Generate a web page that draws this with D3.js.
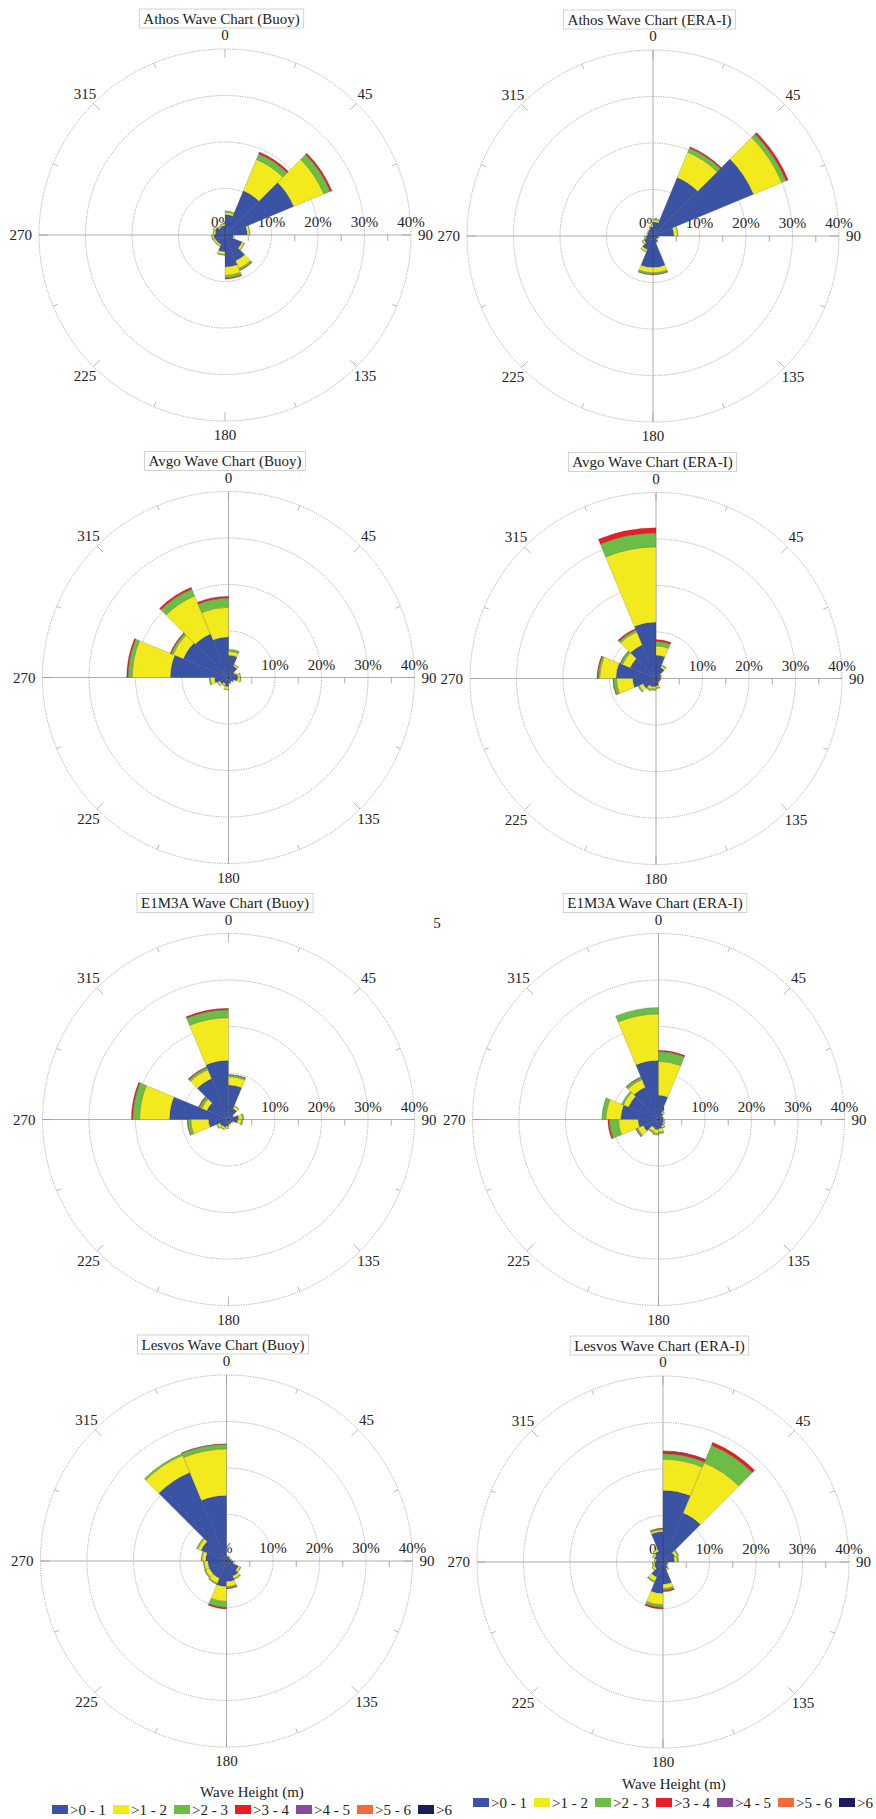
<!DOCTYPE html>
<html>
<head>
<meta charset="utf-8">
<script src="https://cdn.jsdelivr.net/npm/d3@7/dist/d3.min.js"></script>
<style>
  body { margin: 0; background: #fff; }
  svg { display: block; }
  svg text { font-family: 'Liberation Serif', 'DejaVu Serif', 'Times New Roman', serif; }
</style>
</head>
<body>
<svg id="chart" width="876" height="1819"></svg>
<script>
// direction sectors (start angle, degrees) and wave height classes
var directions = d3.range(0, 360, 22.5);
var bins = ['>0 - 1', '>1 - 2', '>2 - 3', '>3 - 4', '>4 - 5', '>5 - 6', '>6'];
var binColors = ['#3a53a4', '#f2ea1c', '#6cbd45', '#ea1d25', '#8a4a9c', '#f26b3a', '#1e1b5a'];
var angleLabels = [0, 45, 90, 135, 180, 225, 270, 315];
var radialTicks = [0, 10, 20, 30, 40];

// frequency (%) per sector, columns = >0-1, >1-2, >2-3, >3-4, >4-5
var athosBuoy = [
  [4.4, 0.5, 0.3, 0], [10.3, 7.3, 1.3, 0.4], [16.0, 7.0, 1.5, 0.4], [4.8, 0.5, 0.1, 0],
  [1.8, 0.3, 0, 0], [4.0, 0.5, 0.1, 0], [6.0, 1.8, 0.4, 0.1], [6.9, 1.8, 0.6, 0.2],
  [3.6, 0.6, 0.2, 0], [2.2, 0.4, 0.1, 0], [2.2, 0.4, 0.1, 0], [2.4, 0.4, 0.1, 0],
  [2.1, 0.4, 0.1, 0], [2.3, 0.4, 0.1, 0], [1.8, 0.3, 0.1, 0], [2.0, 0.4, 0.1, 0]
];
var athosEra = [
  [3.0, 0.5, 0.2, 0], [13.6, 5.9, 1.0, 0.3], [23.4, 6.6, 1.0, 0.5], [4.5, 0.8, 0.1, 0],
  [1.2, 0.2, 0, 0], [1.0, 0.2, 0, 0], [1.5, 0.2, 0, 0], [6.8, 1.1, 0.4, 0.1],
  [6.8, 1.1, 0.4, 0.1], [3.2, 0.5, 0.1, 0], [2.1, 0.4, 0.1, 0], [1.5, 0.3, 0.1, 0],
  [1.2, 0.2, 0, 0], [1.3, 0.2, 0, 0], [1.5, 0.2, 0, 0], [2.0, 0.3, 0, 0]
];
var avgoBuoy = [
  [4.8, 0.8, 0.5, 0], [2.6, 0.4, 0.1, 0], [1.5, 0.3, 0, 0], [2.0, 0.5, 0.1, 0],
  [2.0, 0.6, 0.1, 0], [1.2, 0.3, 0, 0], [1.0, 0.2, 0, 0], [1.2, 0.3, 0, 0],
  [2.0, 0.6, 0.1, 0], [1.5, 0.4, 0.1, 0], [2.0, 0.5, 0.1, 0], [3.0, 0.9, 0.3, 0],
  [12.5, 8.2, 0.9, 0.3], [10.5, 2.4, 0.5, 0.2], [10.1, 8.9, 1.6, 0.4], [8.7, 6.4, 2.0, 0.4]
];
var avgoEra = [
  [5.0, 2.0, 1.0, 0.4], [2.5, 0.5, 0.2, 0], [1.2, 0.2, 0, 0], [1.0, 0.2, 0, 0],
  [1.0, 0.1, 0, 0], [0.8, 0.1, 0, 0], [1.0, 0.2, 0, 0], [1.6, 0.4, 0.2, 0],
  [1.8, 0.5, 0.3, 0], [2.0, 0.6, 0.3, 0], [3.0, 0.9, 0.3, 0], [5.0, 3.5, 0.7, 0.1],
  [8.6, 3.5, 0.4, 0.2], [6.0, 1.8, 0.5, 0.1], [7.8, 3.0, 0.5, 0.3], [12.1, 16.2, 3.0, 1.1]
];
var e1m3aBuoy = [
  [7.4, 1.8, 0.4, 0.1], [2.5, 0.6, 0.1, 0], [1.2, 0.3, 0, 0], [2.2, 0.8, 0.3, 0],
  [2.0, 0.8, 0.3, 0], [1.0, 0.2, 0, 0], [0.8, 0.2, 0, 0], [1.0, 0.3, 0, 0],
  [1.5, 0.4, 0.1, 0], [1.8, 0.5, 0.1, 0], [2.0, 0.6, 0.2, 0], [4.3, 3.8, 0.7, 0.1],
  [12.7, 6.4, 1.5, 0.3], [5.0, 1.2, 0.6, 0.2], [9.5, 2.1, 0.5, 0.2], [12.7, 9.2, 1.7, 0.3]
];
var e1m3aEra = [
  [5.2, 7.3, 2.1, 0.3], [1.5, 0.3, 0.1, 0], [1.0, 0.2, 0, 0], [1.0, 0.2, 0, 0],
  [1.0, 0.2, 0.1, 0], [1.2, 0.3, 0.1, 0], [1.5, 0.4, 0.2, 0], [2.0, 0.7, 0.4, 0],
  [2.2, 0.8, 0.4, 0], [2.0, 0.8, 0.3, 0], [3.5, 1.3, 0.4, 0.1], [4.4, 4.2, 2.0, 0.3],
  [8.1, 3.2, 0.9, 0], [7.0, 1.2, 0.4, 0], [7.5, 1.8, 0.5, 0.1], [12.7, 10.0, 1.4, 0]
];
var lesvosBuoy = [
  [1.0, 0.2, 0, 0], [1.0, 0.2, 0, 0], [0.8, 0.1, 0, 0], [1.0, 0.2, 0, 0],
  [1.5, 0.3, 0, 0], [2.8, 0.5, 0.1, 0], [3.5, 0.6, 0.2, 0], [4.4, 1.1, 0.3, 0.2],
  [5.5, 3.2, 1.3, 0.3], [4.0, 1.2, 0.3, 0], [4.0, 0.9, 0.3, 0], [4.0, 0.8, 0.2, 0],
  [4.5, 0.8, 0.2, 0], [5.9, 0.8, 0.3, 0], [20.6, 4.0, 0.4, 0], [14.1, 10.0, 1.0, 0.1]
];
var lesvosEra = [
  [15.4, 6.7, 1.2, 0.5, 0.1], [11.4, 11.7, 4.1, 0.7], [2.8, 0.6, 0.3, 0], [2.5, 0.6, 0.3, 0],
  [1.0, 0.2, 0, 0], [1.0, 0.2, 0, 0], [1.5, 0.3, 0.1, 0], [4.8, 0.9, 0.4, 0.3],
  [6.8, 2.4, 0.6, 0.3], [3.5, 1.0, 0.3, 0], [2.0, 0.5, 0.1, 0], [1.8, 0.4, 0.1, 0],
  [1.5, 0.3, 0.1, 0], [2.0, 0.4, 0.1, 0], [2.5, 0.5, 0.1, 0], [6.5, 0.4, 0.3, 0.1]
];

var panels = [
  { title: 'Athos Wave Chart (Buoy)', data: athosBuoy, cx: 225, cy: 235, vAxis: false },
  { title: 'Athos Wave Chart (ERA-I)', data: athosEra, cx: 653, cy: 236, vAxis: true },
  { title: 'Avgo Wave Chart (Buoy)', data: avgoBuoy, cx: 228.5, cy: 677.5, vAxis: true },
  { title: 'Avgo Wave Chart (ERA-I)', data: avgoEra, cx: 656, cy: 678.5, vAxis: true },
  { title: 'E1M3A Wave Chart (Buoy)', data: e1m3aBuoy, cx: 228.5, cy: 1119.5, vAxis: false },
  { title: 'E1M3A Wave Chart (ERA-I)', data: e1m3aEra, cx: 658.5, cy: 1119.5, vAxis: true },
  { title: 'Lesvos Wave Chart (Buoy)', data: lesvosBuoy, cx: 226.5, cy: 1561, vAxis: true },
  { title: 'Lesvos Wave Chart (ERA-I)', data: lesvosEra, cx: 663, cy: 1562, vAxis: true }
];

var svg = d3.select('#chart');
var R = 186;
var rScale = d3.scaleLinear().domain([0, 40]).range([0, R]);
var toRad = Math.PI / 180;
var step = 22.5;

var arc = d3.arc()
  .innerRadius(function (d) { return rScale(d[0]); })
  .outerRadius(function (d) { return rScale(d[1]); })
  .startAngle(function (d) { return d.data.dir * toRad; })
  .endAngle(function (d) { return (d.data.dir + step) * toRad; });

function drawPanel(p) {
  var g = svg.append('g')
    .attr('transform', 'translate(' + p.cx + ',' + p.cy + ')');

  // 网格圆
  g.selectAll('circle.grid')
    .data(radialTicks.slice(1))
    .enter().append('circle')
    .attr('class', 'grid')
    .attr('r', function (d) { return rScale(d); })
    .attr('fill', 'none')
    .attr('stroke', '#8a8a8a')
    .attr('stroke-width', 0.7)
    .attr('stroke-dasharray', '1.2,1.2');

  // 轴线
  g.append('line')
    .attr('x1', -R).attr('x2', R).attr('y1', 0).attr('y2', 0)
    .attr('stroke', '#9a9a9a').attr('stroke-width', 0.8);
  if (p.vAxis) {
    g.append('line')
      .attr('x1', 0).attr('x2', 0).attr('y1', -R).attr('y2', R)
      .attr('stroke', '#9a9a9a').attr('stroke-width', 0.8);
  }

  // 外圈刻度
  g.selectAll('line.atick')
    .data(directions)
    .enter().append('line')
    .attr('class', 'atick')
    .each(function (a) {
      var len = a % 45 === 0 ? 9 : 5;
      var s = Math.sin(a * toRad), c = -Math.cos(a * toRad);
      d3.select(this)
        .attr('x1', R * s).attr('y1', R * c)
        .attr('x2', (R - len) * s).attr('y2', (R - len) * c);
    })
    .attr('stroke', '#999').attr('stroke-width', 0.7);

  // 径向刻度
  g.selectAll('line.rtick')
    .data([5, 15, 25, 35])
    .enter().append('line')
    .attr('class', 'rtick')
    .attr('x1', function (d) { return rScale(d); })
    .attr('x2', function (d) { return rScale(d); })
    .attr('y1', 0).attr('y2', 6)
    .attr('stroke', '#888').attr('stroke-width', 0.7);

  g.selectAll('text.rlabel')
    .data(radialTicks)
    .enter().append('text')
    .attr('class', 'rlabel')
    .attr('x', function (d) { return rScale(d) - (d === 0 ? 4 : 0); })
    .attr('y', -8)
    .attr('text-anchor', 'middle')
    .attr('font-size', 15)
    .attr('fill', '#222')
    .text(function (d) { return d + '%'; });

  // 方向标签
  g.selectAll('text.alabel')
    .data(angleLabels)
    .enter().append('text')
    .attr('class', 'alabel')
    .attr('x', function (a) {
      if (a === 90) return 193;
      if (a === 270) return -193;
      return 198 * Math.sin(a * toRad);
    })
    .attr('y', function (a) { return -200 * Math.cos(a * toRad) + 5; })
    .attr('text-anchor', function (a) {
      if (a === 90) return 'start';
      if (a === 270) return 'end';
      return 'middle';
    })
    .attr('font-size', 15)
    .attr('fill', '#222')
    .text(function (a) { return a; });

  // 花瓣
  var rows = p.data.map(function (row, i) {
    var o = { dir: directions[i] };
    for (var k = 0; k < bins.length; k++) o[k] = row[k] || 0;
    return o;
  });
  var series = d3.stack().keys(d3.range(bins.length))(rows);
  g.selectAll('g.layer')
    .data(series)
    .enter().append('g')
    .attr('class', 'layer')
    .attr('fill', function (d) { return binColors[d.key]; })
    .selectAll('path')
    .data(function (d) { return d.filter(function (s) { return s[1] > s[0]; }); })
    .enter().append('path')
    .attr('d', arc)
    .attr('stroke', '#2a2a3a')
    .attr('stroke-width', 0.3)
    .attr('stroke-opacity', 0.6);

  // 标题
  var tg = g.append('g').attr('transform', 'translate(-3.5,-226)');
  var tb = tg.append('rect');
  var tt = tg.append('text')
    .attr('x', 0).attr('y', 14.5)
    .attr('text-anchor', 'middle')
    .attr('font-size', 15)
    .attr('fill', '#222')
    .text(p.title);
  var box = tt.node().getBBox();
  tb.attr('x', box.x - 4).attr('y', 0)
    .attr('width', box.width + 8).attr('height', 19)
    .attr('fill', '#fff')
    .attr('stroke', '#c8c8c8').attr('stroke-width', 0.8);
}

panels.forEach(drawPanel);

// 图例
function drawLegend(titleX, titleY, x0, rowY) {
  var lg = svg.append('g');
  lg.append('text')
    .attr('x', titleX).attr('y', titleY)
    .attr('text-anchor', 'middle')
    .attr('font-size', 15)
    .attr('fill', '#222')
    .text('Wave Height (m)');
  var item = lg.selectAll('g.item')
    .data(bins)
    .enter().append('g')
    .attr('class', 'item')
    .attr('transform', function (d, i) { return 'translate(' + (x0 + i * 61) + ',' + rowY + ')'; });
  item.append('rect')
    .attr('width', 16).attr('height', 9)
    .attr('fill', function (d, i) { return binColors[i]; });
  item.append('text')
    .attr('x', 18).attr('y', 10)
    .attr('font-size', 15)
    .attr('fill', '#222')
    .text(function (d) { return d; });
}
drawLegend(252, 1797, 52, 1805);
drawLegend(674, 1789, 473, 1798);

// 截图残留字符
svg.append('text')
  .attr('x', 437).attr('y', 928)
  .attr('text-anchor', 'middle')
  .attr('font-size', 15)
  .attr('fill', '#222')
  .text('5');
</script>
</body>
</html>
